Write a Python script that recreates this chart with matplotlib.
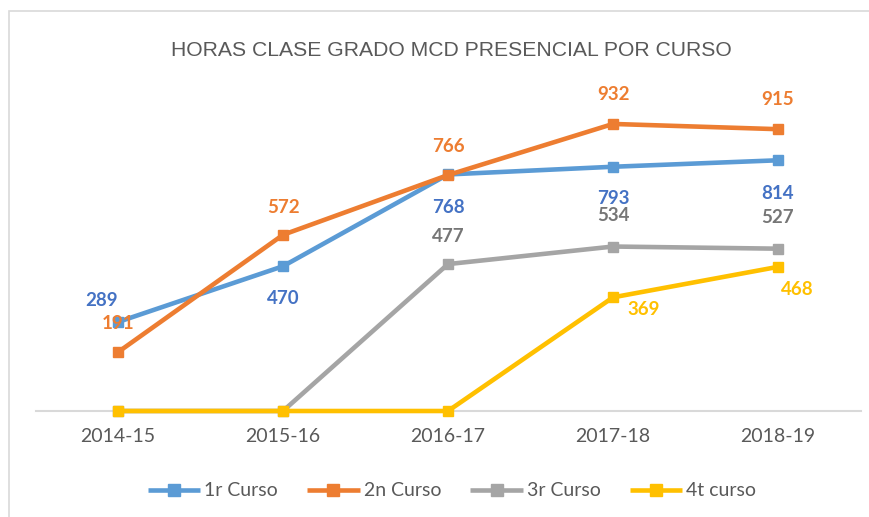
import matplotlib
matplotlib.use("Agg")
import matplotlib.pyplot as plt
from matplotlib.patches import Rectangle

categories = ["2014-15", "2015-16", "2016-17", "2017-18", "2018-19"]
series_names = ["1r Curso", "2n Curso", "3r Curso", "4t curso"]
curso1 = [289, 470, 768, 793, 814]
curso2 = [191, 572, 766, 932, 915]
curso3 = [0, 0, 477, 534, 527]
curso4 = [0, 0, 0, 369, 468]
title = "HORAS CLASE GRADO MCD PRESENCIAL POR CURSO"

line_colors = ["#5B9BD5", "#ED7D31", "#A5A5A5", "#FFC000"]
label_colors = ["#4472C4", "#ED7D31", "#767676", "#FFC000"]
series = [curso1, curso2, curso3, curso4]

# label offsets in pixels (dx, dy) per series, per point (None = hidden)
offsets = [
    [(-16, 21), (0, -32), (0, -33), (0, -32), (0, -33)],
    [(0, 29), (0, 27), (0, 29), (0, 29), (0, 30)],
    [None, None, (0, 28), (0, 31), (0, 31)],
    [None, None, None, (31, -12), (19, -23)],
]

fig = plt.figure(figsize=(8.7, 5.17), dpi=100)
fig.patch.set_facecolor("white")
fig.add_artist(Rectangle((9 / 870, -0.1), 1.2, (517 - 11) / 517 + 0.1,
                         transform=fig.transFigure, fill=False,
                         edgecolor="#D9D9D9", linewidth=1.2))

ax = fig.add_axes([35.5 / 870, (517 - 411) / 517, 825 / 870, 308 / 517])
x = list(range(len(categories)))
for i, (vals, name) in enumerate(zip(series, series_names)):
    ax.plot(x, vals, color=line_colors[i], linewidth=3.3, marker="s",
            markersize=7.5, label=name, zorder=3 + i, clip_on=False,
            solid_capstyle="butt")
    for j, v in enumerate(vals):
        off = offsets[i][j]
        if off is None:
            continue
        ax.annotate(str(v), (j, v), xytext=(off[0] * 0.72, off[1] * 0.72),
                    textcoords="offset points", ha="center", va="center",
                    color=label_colors[i], fontsize=13.5, fontweight="bold",
                    family="Lato", zorder=10)

ax.set_xlim(-0.5, 4.5)
ax.set_ylim(0, 1000)
ax.set_xticks(x)
ax.set_xticklabels(categories, family="Lato", fontsize=14, color="#595959")
ax.tick_params(axis="x", length=0, pad=12)
ax.set_yticks([])
for s in ["top", "right", "left"]:
    ax.spines[s].set_visible(False)
ax.spines["bottom"].set_color("#D9D9D9")
ax.spines["bottom"].set_linewidth(1.5)

fig.text(451 / 870, 1 - 51 / 517, title, ha="center", va="center",
         fontsize=15.2, color="#595959", family="Liberation Sans")

leg = fig.legend(loc="center", bbox_to_anchor=(452 / 870, 1 - 491 / 517),
                 ncol=4, frameon=False, prop={"family": "Lato", "size": 14},
                 handlelength=2.7, handletextpad=0.2, columnspacing=1.5,
                 markerscale=1.1)
for t in leg.get_texts():
    t.set_color("#595959")

fig.savefig("out.png", dpi=100, facecolor="white")
